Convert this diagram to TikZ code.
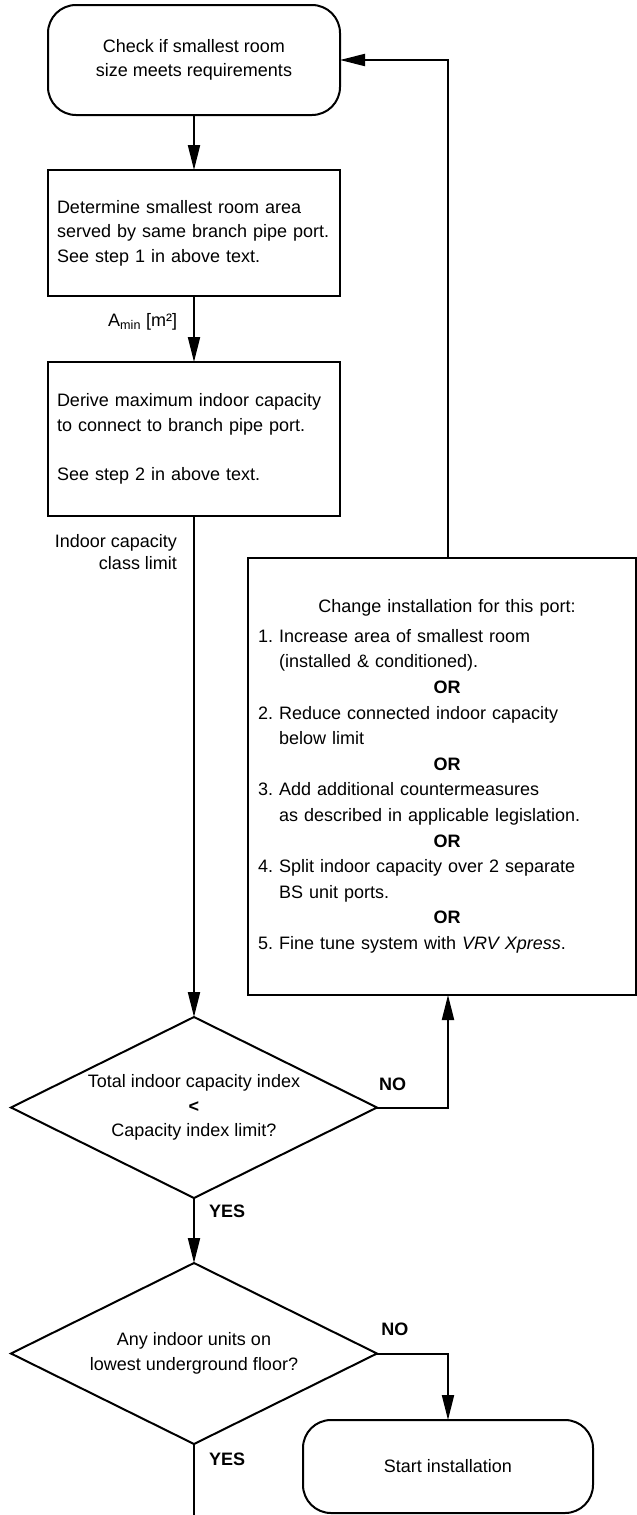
\documentclass[tikz,border=0pt]{standalone}
\usepackage{fontspec}
\setmainfont{Liberation Sans}
\usetikzlibrary{positioning,arrows.meta,shapes.geometric}

\newcommand\midline[1]{\leavevmode\hbox to\hsize{\hss\kern10pt#1\hss}}

\begin{document}
\begin{tikzpicture}[
  x=1pt, y=-1pt, line width=2pt,
  font=\fontsize{18}{24.5}\selectfont, >={Triangle[length=25pt,width=12pt]},
  every node/.style={outer sep=0pt},
  terminal/.style={draw, rounded corners=28pt, align=center, minimum width=292pt, minimum height=110pt},
  procbox/.style={draw, align=left, text width=274pt, inner xsep=9pt},
  decision/.style={draw, diamond, aspect=2, inner sep=0pt, align=center, minimum width=366pt, minimum height=181pt},
  change/.style={draw, align=left, text width=368pt, inner xsep=10pt, minimum height=437pt,
                 font=\fontsize{18}{25.6}\selectfont},
  note/.style={inner sep=0pt, font=\fontsize{18}{21.5}\selectfont},
  answer/.style={inner sep=0pt, font=\fontsize{18}{21.5}\selectfont\bfseries},
]
\useasboundingbox (0,0) rectangle (637,1515);
% ---- main column ----
\node[terminal] (check) at (194,60) {Check if smallest room\\size meets requirements};
\node[procbox, minimum height=126pt, below=55pt of check] (area)
  {Determine smallest room area\\served by same branch pipe port.\\See step 1 in above text.};
\node[procbox, minimum height=154pt, below=66pt of area] (derive)
  {Derive maximum indoor capacity\\to connect to branch pipe port.\\[24.5pt]See step 2 in above text.};
\node[decision, below=501pt of derive] (cap)
  {Total indoor capacity index\\\textbf{<}\\Capacity index limit?};
\node[decision, below=65pt of cap] (under)
  {Any indoor units on\\lowest underground floor?};
\coordinate (bottom) at (194,1515);
% ---- right column ----
\node[change] (alt) at (442,776.5)
  {\midline{Change installation for this port:}\\[4pt]
   1.~Increase area of smallest room\\
   \phantom{1.~}(installed \& conditioned).\\
   \midline{\textbf{OR}}\\
   2.~Reduce connected indoor capacity\\
   \phantom{2.~}below limit\\
   \midline{\textbf{OR}}\\
   3.~Add additional countermeasures\\
   \phantom{3.~}as described in applicable legislation.\\
   \midline{\textbf{OR}}\\
   4.~Split indoor capacity over 2 separate\\
   \phantom{4.~}BS unit ports.\\
   \midline{\textbf{OR}}\\
   5.~Fine tune system with \textit{VRV Xpress}.};
\node[terminal, minimum width=290pt, minimum height=93pt] (start) at (448,1466.5) {Start installation};
% ---- connectors ----
\draw[->] (check) -- (area);
\draw[->] (area) -- node[note, pos=.39, left=17pt] {A\textsubscript{min} [m²]} (derive);
\draw[->] (derive) -- node[note, pos=.072, left=17pt, align=right] {Indoor capacity\\class limit} (cap);
\draw[->] (cap) -- node[answer, pos=.2, right=15pt] {YES} (under);
\draw[->] (cap.east) -| node[answer, pos=.11, above=17pt] {NO} (alt.south -| start.north);
\draw[->] (alt.north -| start.north) |- (check.east);
\draw[->] (under.east) -| node[answer, pos=.125, above=18pt] {NO} (start.north);
\draw (under) -- node[answer, pos=.21, right=15pt] {YES} (bottom);
\end{tikzpicture}
\end{document}
